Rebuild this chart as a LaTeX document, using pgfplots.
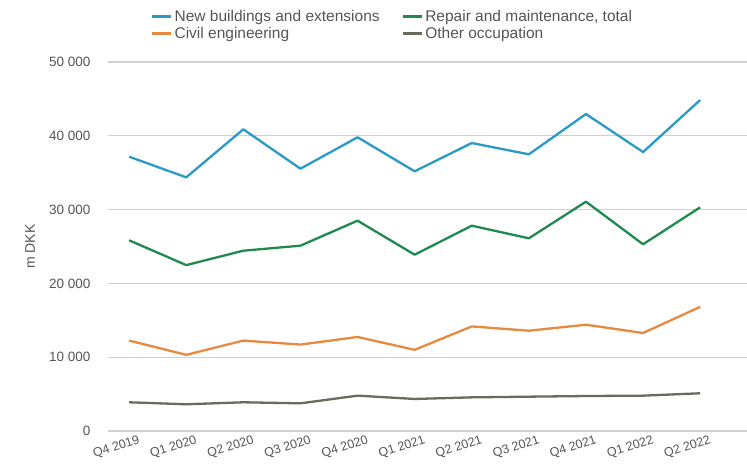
\documentclass[border=0pt]{standalone}
\usepackage{pgfplots}
\pgfplotsset{compat=1.18}
\usepackage{fontspec}
\setmainfont{Liberation Sans}
\definecolor{cblue}{HTML}{2A9AC6}
\definecolor{cgreen}{HTML}{1E8A4E}
\definecolor{corange}{HTML}{E58A3E}
\definecolor{cgray}{HTML}{6B6A5C}
\definecolor{ctext}{HTML}{555555}
\definecolor{cgrid}{HTML}{D0D0D0}
\begin{document}
\begin{tikzpicture}[x=1pt,y=1pt]
\useasboundingbox (-108,-45) rectangle (639,431);
\begin{axis}[
  at={(0,0)}, anchor=south west,
  scale only axis, width=639pt, height=369pt,
  xmin=-0.37, xmax=10.82, ymin=0, ymax=50000,
  axis lines=left, axis line style={draw=none},
  ymajorgrids, grid style={cgrid, line width=1.3pt},
  ytick={0,10000,20000,30000,40000,50000},
  xtick={0,...,10},
  xticklabels={Q4 2019,Q1 2020,Q2 2020,Q3 2020,Q4 2020,Q1 2021,Q2 2021,Q3 2021,Q4 2021,Q1 2022,Q2 2022},
  x tick label style={rotate=18, anchor=north east, font=\fontsize{12.5}{13}\selectfont, text=ctext, xshift=8pt, yshift=-5pt, inner sep=1pt},
  y tick label style={font=\fontsize{13.5}{14}\selectfont, text=ctext, xshift=-14pt},
  yticklabel style={/pgf/number format/1000 sep={\ }, /pgf/number format/assume math mode=true},
  scaled y ticks=false,
  major tick length=0pt,
  ylabel={m DKK}, ylabel style={font=\fontsize{14}{15}\selectfont, text=ctext, at={(axis description cs:-0.122,0.5)}, anchor=center},
  every axis plot/.append style={line width=2.3pt, line join=round},
  legend columns=2,
  legend style={at={(rel axis cs:0.067,1)}, anchor=south west, yshift=20pt, draw=none, fill=none, font=\fontsize{15.5}{16}\selectfont, text=ctext, row sep=0pt, inner sep=0pt,
    /tikz/every even column/.append style={column sep=20pt}},
  legend cell align=left,
  legend image code/.code={\draw[#1, line width=2.6pt] (0pt,0pt) -- (19pt,0pt);},
  clip=false,
]
\addplot[cblue] coordinates {(0,37170) (1,34370) (2,40880) (3,35540) (4,39800) (5,35190) (6,39020) (7,37490) (8,42950) (9,37800) (10,44850)};
\addlegendentry{New buildings and extensions}
\addplot[cgreen] coordinates {(0,25840) (1,22480) (2,24430) (3,25110) (4,28500) (5,23890) (6,27820) (7,26110) (8,31070) (9,25300) (10,30310)};
\addlegendentry{Repair and maintenance, total}
\addplot[corange] coordinates {(0,12250) (1,10320) (2,12250) (3,11710) (4,12740) (5,11000) (6,14170) (7,13590) (8,14400) (9,13280) (10,16820)};
\addlegendentry{Civil engineering}
\addplot[cgray] coordinates {(0,3890) (1,3620) (2,3890) (3,3750) (4,4790) (5,4340) (6,4560) (7,4650) (8,4740) (9,4790) (10,5110)};
\addlegendentry{Other occupation}
\end{axis}
\end{tikzpicture}
\end{document}
